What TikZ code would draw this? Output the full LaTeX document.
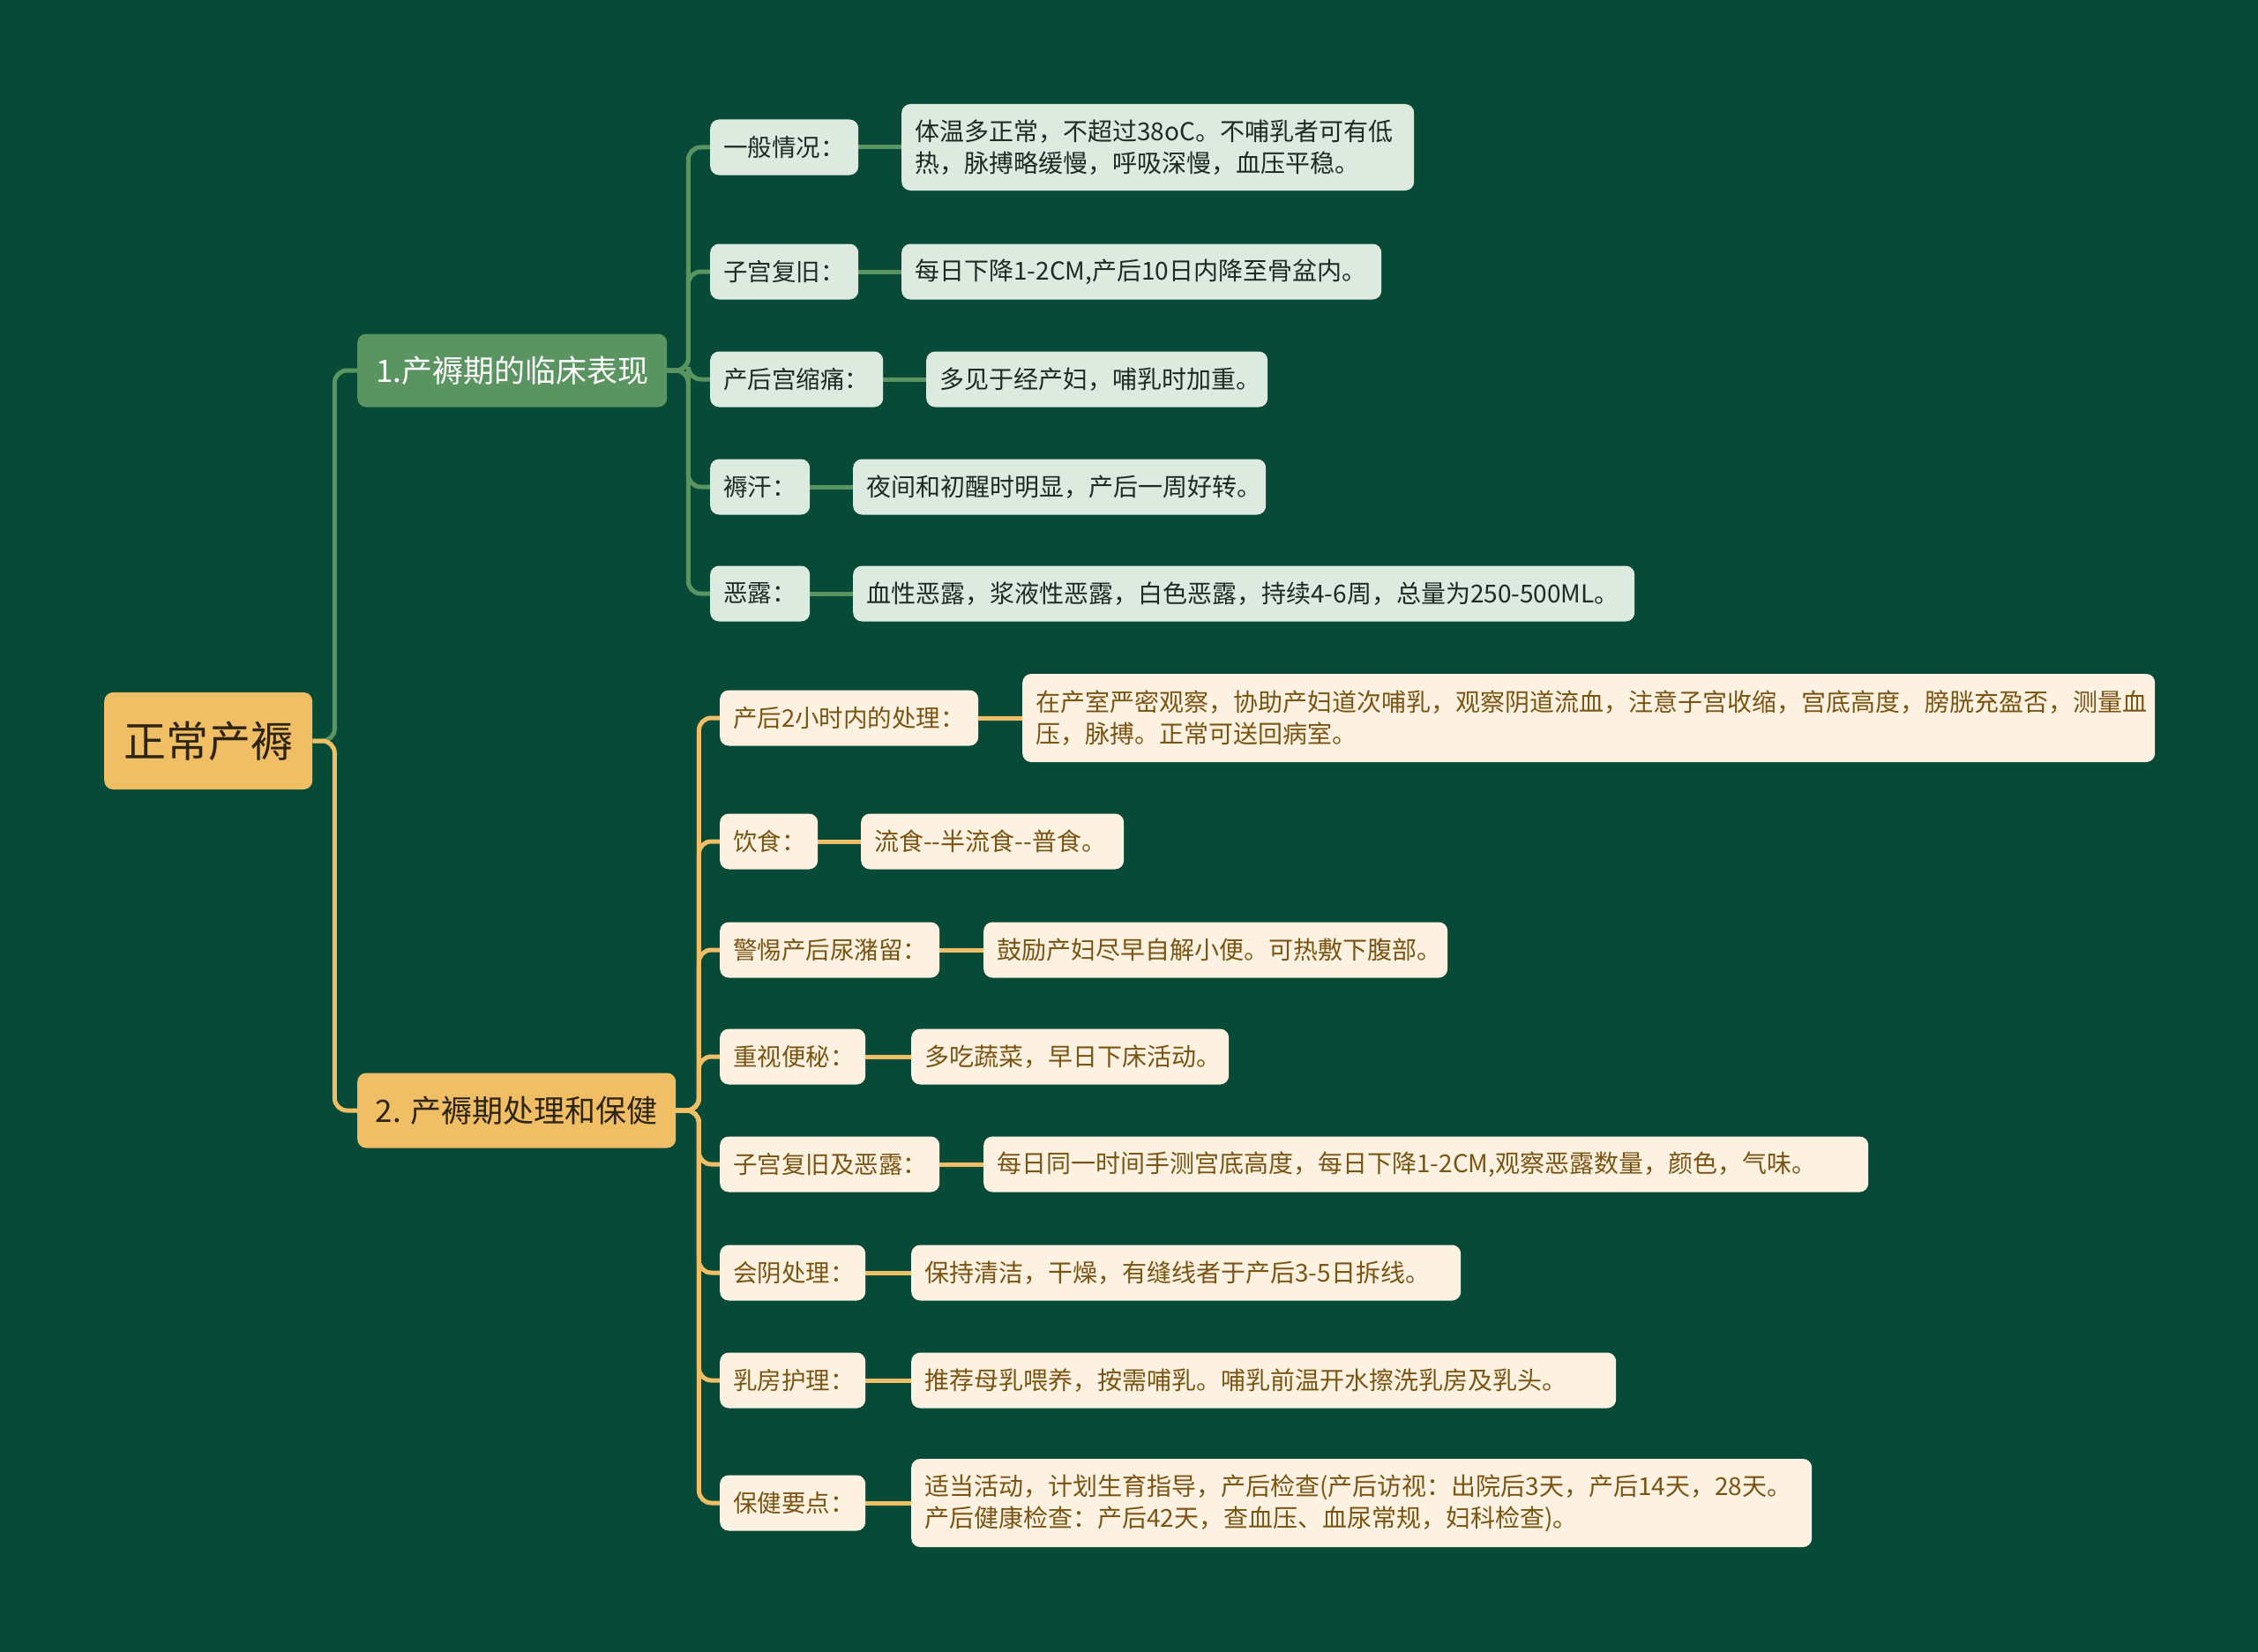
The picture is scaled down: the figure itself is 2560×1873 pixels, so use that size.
\documentclass[tikz,border=0pt]{standalone}
\usepackage{fontspec}
\newfontfamily\cjk{Noto Sans CJK SC}
\definecolor{bgc}{HTML}{084A38}
\definecolor{gmain}{HTML}{5A9461}
\definecolor{glight}{HTML}{DDEADF}
\definecolor{gtext}{HTML}{1E2A22}
\definecolor{omain}{HTML}{F0BE64}
\definecolor{olight}{HTML}{FDF2E2}
\definecolor{otext}{HTML}{7A5413}
\definecolor{rtext}{HTML}{2E2412}
\pgfdeclarelayer{bgl}
\pgfdeclarelayer{edges}
\pgfsetlayers{bgl,edges,main}
\tikzset{
  base/.style={rounded corners=10pt, inner xsep=15pt, inner ysep=0pt, anchor=west, align=left},
  rootbox/.style={base, fill=omain, text=rtext, align=center, font=\cjk\fontsize{48}{58}\selectfont},
  gbranch/.style={base, fill=gmain, text=white, align=center, font=\cjk\fontsize{35}{42}\selectfont},
  obranch/.style={base, fill=omain, text=rtext, align=center, font=\cjk\fontsize{35}{42}\selectfont},
  gkid/.style={base, fill=glight, text=gtext, font=\cjk\fontsize{27.5}{36}\selectfont},
  okid/.style={base, fill=olight, text=otext, font=\cjk\fontsize{27.5}{36}\selectfont},
  gleaf/.style={gkid, font=\cjk\fontsize{28}{36}\selectfont},
  oleaf/.style={okid, font=\cjk\fontsize{28}{36}\selectfont},
  gline/.style={draw=gmain, line width=5pt, rounded corners=14pt},
  oline/.style={draw=omain, line width=5pt, rounded corners=14pt},
}
\begin{document}
\begin{tikzpicture}[x=1pt,y=-1pt]
\begin{pgfonlayer}{bgl}
\fill[bgc] (0,0) rectangle (2560,1873);
\end{pgfonlayer}
\useasboundingbox (0,0) rectangle (2560,1873);

% root and branches
\node[rootbox, minimum width=236, minimum height=110] (root) at (118,840) {正常产褥};
\node[gbranch, minimum width=351, minimum height=83] (b1) at (405,420) {1.产褥期的临床表现};
\node[obranch, minimum width=361, minimum height=85] (b2) at (405,1259) {2. 产褥期处理和保健};

% green children
\node[gkid, text width=138, minimum height=63] (g1) at (805,167) {一般情况：};
\node[gleaf, text width=551, minimum height=98] (gl1) at (1022,167) {体温多正常，不超过38oC。不哺乳者可有低\\热，脉搏略缓慢，呼吸深慢，血压平稳。};
\node[gkid, text width=138, minimum height=63] (g2) at (805,308) {子宫复旧：};
\node[gleaf, text width=514, minimum height=63] (gl2) at (1022,308) {每日下降1-2CM,产后10日内降至骨盆内。};
\node[gkid, text width=166, minimum height=63] (g3) at (805,430) {产后宫缩痛：};
\node[gleaf, text width=357, minimum height=63] (gl3) at (1050,430) {多见于经产妇，哺乳时加重。};
\node[gkid, text width=83, minimum height=63] (g4) at (805,552) {褥汗：};
\node[gleaf, text width=438, minimum height=63] (gl4) at (967,552) {夜间和初醒时明显，产后一周好转。};
\node[gkid, text width=83, minimum height=63] (g5) at (805,673) {恶露：};
\node[gleaf, text width=856, minimum height=63] (gl5) at (967,673) {血性恶露，浆液性恶露，白色恶露，持续4-6周，总量为250-500ML。};

% orange children
\node[okid, text width=263, minimum height=63] (o1) at (816,814) {产后2小时内的处理：};
\node[oleaf, text width=1254, minimum height=100] (ol1) at (1159,814) {在产室严密观察，协助产妇道次哺乳，观察阴道流血，注意子宫收缩，宫底高度，膀胱充盈否，测量血\\压，脉搏。正常可送回病室。};
\node[okid, text width=81, minimum height=63] (o2) at (816,954) {饮食：};
\node[oleaf, text width=268, minimum height=63] (ol2) at (976,954) {流食--半流食--普食。};
\node[okid, text width=219, minimum height=63] (o3) at (816,1077) {警惕产后尿潴留：};
\node[oleaf, text width=496, minimum height=63] (ol3) at (1115,1077) {鼓励产妇尽早自解小便。可热敷下腹部。};
\node[okid, text width=135, minimum height=63] (o4) at (816,1198) {重视便秘：};
\node[oleaf, text width=330, minimum height=63] (ol4) at (1033,1198) {多吃蔬菜，早日下床活动。};
\node[okid, text width=219, minimum height=63] (o5) at (816,1320) {子宫复旧及恶露：};
\node[oleaf, text width=973, minimum height=63] (ol5) at (1115,1320) {每日同一时间手测宫底高度，每日下降1-2CM,观察恶露数量，颜色，气味。};
\node[okid, text width=135, minimum height=63] (o6) at (816,1443) {会阴处理：};
\node[oleaf, text width=593, minimum height=63] (ol6) at (1033,1443) {保持清洁，干燥，有缝线者于产后3-5日拆线。};
\node[okid, text width=135, minimum height=63] (o7) at (816,1565) {乳房护理：};
\node[oleaf, text width=769, minimum height=63] (ol7) at (1033,1565) {推荐母乳喂养，按需哺乳。哺乳前温开水擦洗乳房及乳头。};
\node[okid, text width=135, minimum height=63] (o8) at (816,1704) {保健要点：};
\node[oleaf, text width=991, minimum height=100] (ol8) at (1033,1704) {适当活动，计划生育指导，产后检查(产后访视：出院后3天，产后14天，28天。\\产后健康检查：产后42天，查血压、血尿常规，妇科检查)。};

\begin{pgfonlayer}{edges}
% root to branches
\draw[gline] (root.east) -- ++(25,0) |- (b1.west);
\draw[oline] (root.east) -- ++(25,0) |- (b2.west);
% green branch
\foreach \k in {g1,g2,g3,g4,g5}{
  \draw[gline] (b1.east) -- ++(24,0) |- (\k.west);
}
\draw[gline] (g1.east) -- (gl1.west);
\draw[gline] (g2.east) -- (gl2.west);
\draw[gline] (g3.east) -- (gl3.west);
\draw[gline] (g4.east) -- (gl4.west);
\draw[gline] (g5.east) -- (gl5.west);
% orange branch
\foreach \k in {o1,o2,o3,o4,o5,o6,o7,o8}{
  \draw[oline] (b2.east) -- ++(26,0) |- (\k.west);
}
\draw[oline] (o1.east) -- (ol1.west);
\draw[oline] (o2.east) -- (ol2.west);
\draw[oline] (o3.east) -- (ol3.west);
\draw[oline] (o4.east) -- (ol4.west);
\draw[oline] (o5.east) -- (ol5.west);
\draw[oline] (o6.east) -- (ol6.west);
\draw[oline] (o7.east) -- (ol7.west);
\draw[oline] (o8.east) -- (ol8.west);
\end{pgfonlayer}
\end{tikzpicture}
\end{document}
